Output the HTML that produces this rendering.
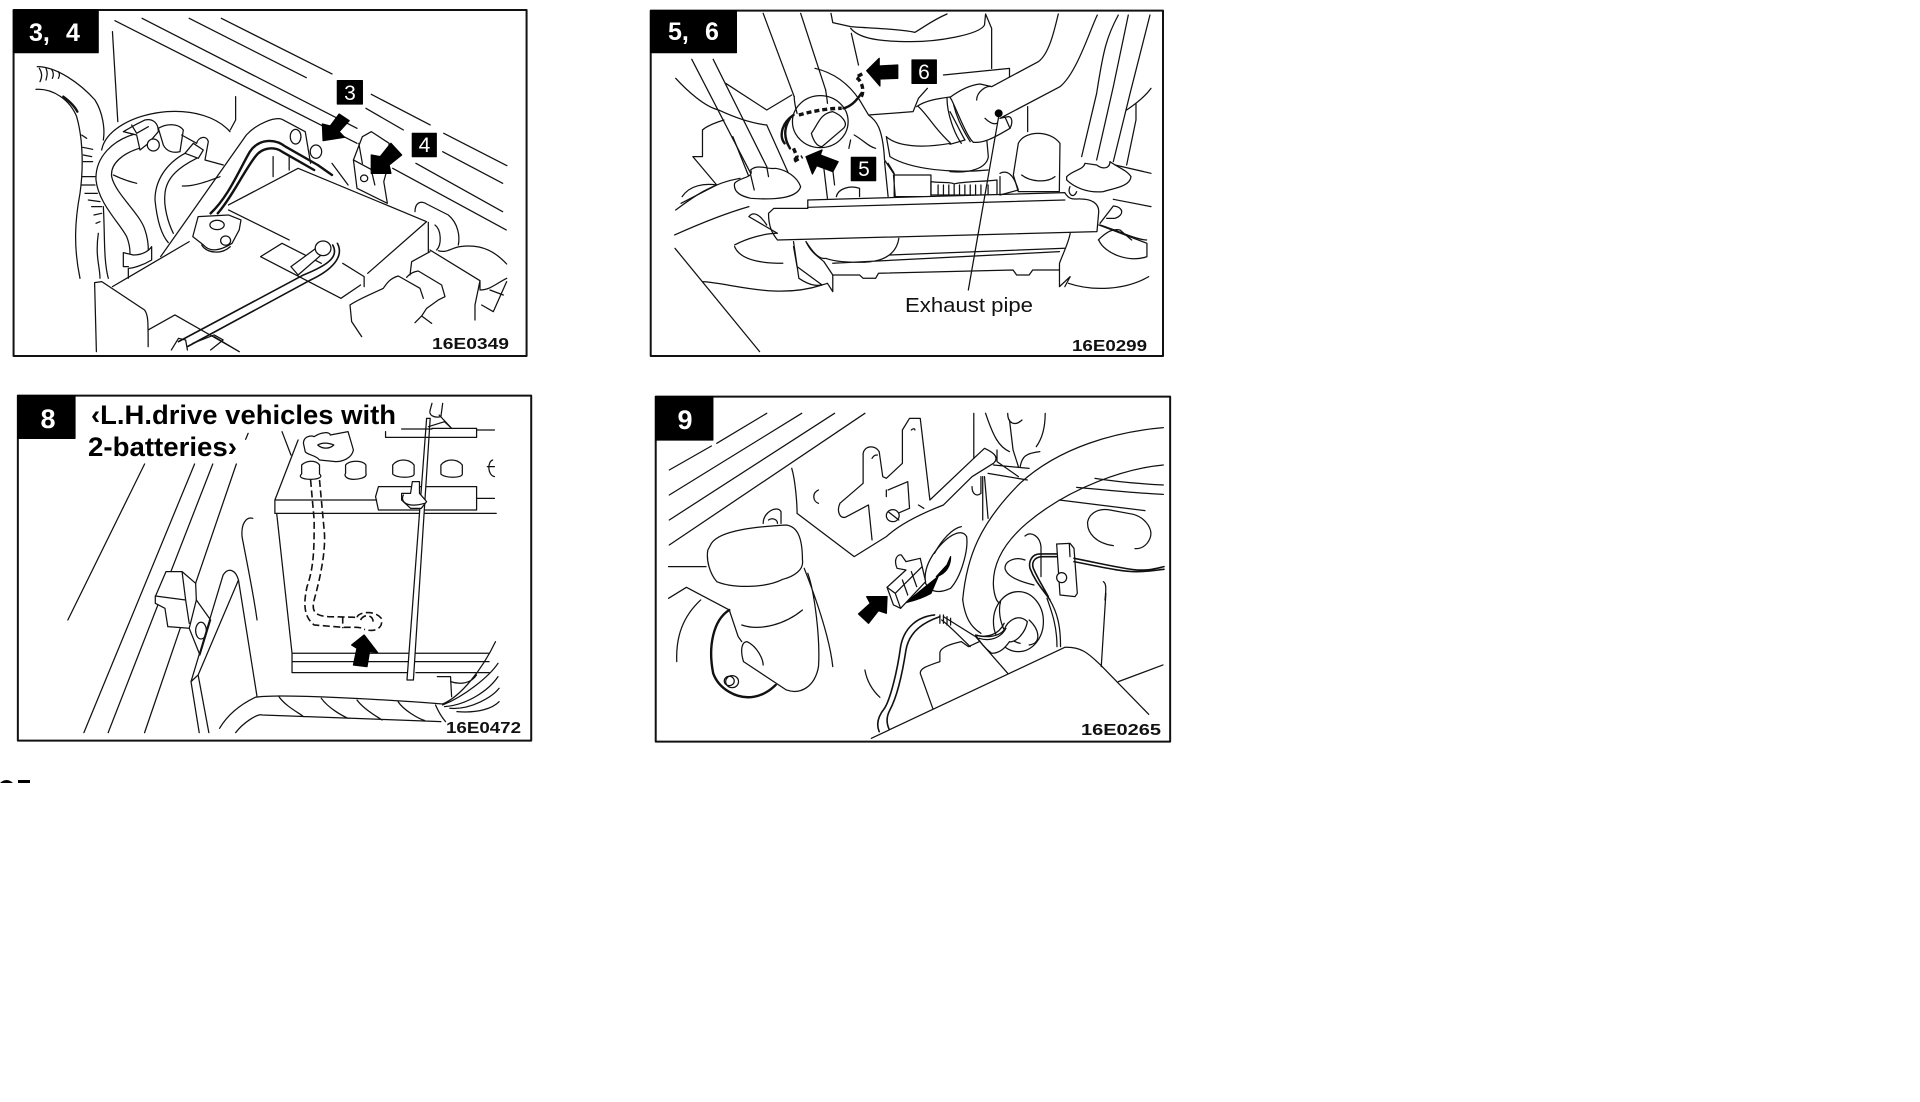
<!DOCTYPE html>
<html lang="en">
<head>
<meta charset="utf-8">
<title>Panels 3-9</title>
<style>
html,body{margin:0;padding:0;background:#fff}
svg{display:block}
.l path,.l ellipse,.l circle,.l rect,.l polygon{vector-effect:non-scaling-stroke}
.l{fill:none;stroke:#111;stroke-width:1.25;stroke-linecap:round;stroke-linejoin:round}
.w{fill:#fff}
.t{stroke-width:2.4}
.m{stroke-width:1.6}
.d{stroke-dasharray:5 3;stroke-width:3.4;stroke-linecap:butt}
.dd{stroke-dasharray:7 3.5;stroke-width:1.6;stroke-linecap:butt}
.f{fill:#000;stroke:#000}
.n0{stroke:none}
.fr{fill:none;stroke:#111;stroke-width:2}
text{font-family:"Liberation Sans",sans-serif;stroke:none}
.c{font-weight:700;font-size:16px;fill:#111}
.n{font-weight:700;fill:#fff}
</style>
</head>
<body>
<svg width="1920" height="1102" viewBox="0 0 1920 1102" xmlns="http://www.w3.org/2000/svg">
<rect width="1920" height="1102" fill="#fff"/>

<!-- Panel 3,4 -->
<g class="l" transform="scale(.357 .3333)">
<path d="M322 62L1000 430M398 55L1000 385M530 55L858 233M620 55L930 222M1025 325L1130 390M1040 283L1205 375M1243 400L1420 497M1240 455L1408 550M1165 490L1408 635M1100 505L1418 690"/>
<path d="M315 95L330 365"/>
<path d="M660 290V360L645 390"/>
<path class="w n0" d="M835 505L1195 665L1025 825L640 625Z"/>
<path d="M640 615L835 505L1195 665L1030 820M640 630L810 720M960 790L1020 830V860"/>
<path d="M450 770L690 405C720 370 770 350 790 358L855 395L870 490M810 470V510M765 470V530"/>
<ellipse cx="828" cy="410" rx="15" ry="22"/><ellipse cx="885" cy="455" rx="16" ry="20"/>
<path class="t" d="M590 640C640 590 670 510 700 455C725 415 770 415 800 440L890 495L930 525"/>
<path class="t" d="M610 640C650 590 680 520 715 470C735 440 770 440 790 455L880 510"/>
<path d="M930 490L975 555"/>
<path class="w" d="M555 650L640 645L675 660L670 690L650 730C620 750 590 760 570 735L540 710Z"/>
<ellipse cx="608" cy="675" rx="20" ry="14"/><circle cx="632" cy="722" r="14"/>
<path d="M565 735C580 760 620 765 645 740"/>
<path d="M730 770L790 730L900 790M730 770L955 895L1010 855M865 845L955 895"/>
<path class="w" d="M815 800L885 745L905 760L835 825Z"/>
<circle class="w" cx="905" cy="745" r="22"/>
<path class="m" d="M500 1025L850 825C920 795 950 770 932 735M525 1040L870 840C930 810 965 770 945 730"/>
<path d="M480 1050L500 1015L520 1020L525 1050M540 1030L600 1005L625 1020L590 1050M600 1010L670 1055"/>
<path d="M265 848L270 1055M265 848L285 845L405 930C415 945 415 960 415 1040M315 860L530 725M415 990L490 945L670 1055"/>
<path class="w" d="M1015 410L1040 395L1090 430L1085 505L1075 545L1085 610L1000 565L990 480Z"/>
<path d="M990 480L1060 520M1005 430L1015 490M1040 510L1050 555"/><circle cx="1020" cy="535" r="10"/>
<polygon class="f" points="905,422 903,372 925,378 950,342 978,362 950,395 965,412"/>
<polygon class="f" points="1040,520 1040,465 1065,470 1095,430 1125,465 1090,495 1095,520"/>
<rect class="fr" x="38" y="30" width="1437" height="1038"/>
<rect class="f" x="38" y="30" width="237" height="128"/>
<rect class="f" x="945" y="242" width="70" height="70"/>
<rect class="f" x="1155" y="400" width="67" height="70"/>
</g>

<!-- Panel 3,4 detail: left hoses -->
<g class="l" transform="translate(20 60) scale(.3333)">
<path d="M52 20C110 20 180 70 225 120C250 160 255 210 250 240M250 440C255 520 250 600 265 655"/>
<path d="M48 88C100 85 150 120 170 170C190 240 190 330 180 400C165 480 160 560 180 655"/>
<path d="M235 520C225 590 240 620 240 655"/>
<path d="M58 25C68 40 65 55 60 65M78 25C85 40 80 50 78 60M95 28C102 40 100 50 97 55M115 35C120 42 118 50 115 55"/>
<path d="M185 225L200 235M188 262L218 268M190 285L215 290M190 305L218 305M187 350H225M183 375H225M195 400L232 400M205 420L240 425M215 440H245M222 465L245 460M228 490L240 485"/>
<path class="t" d="M130 110C150 125 165 140 172 155"/>
<path d="M245 270C255 215 330 165 440 155C520 150 590 170 630 215M280 345C300 355 330 365 350 370M487 378C520 380 560 365 600 350"/>
<path d="M345 222C280 240 225 290 228 360C235 430 300 490 320 530C330 555 330 570 330 580"/>
<path d="M358 265C310 280 270 310 275 350C285 400 360 460 375 510C385 540 385 560 385 570"/>
<path d="M310 578L340 585C365 585 385 575 395 560V600C370 615 340 625 325 625V655M310 578V620H325"/>
<path class="w" d="M310 215L345 195L375 180C400 175 415 190 415 215L385 250L360 270L350 225Z"/>
<path d="M335 195L350 220L385 200"/>
<circle class="w" cx="400" cy="255" r="18"/>
<path class="w" d="M415 205C440 190 475 190 490 210L480 275C460 280 440 275 430 255Z"/>
<path d="M485 225L530 250C535 230 560 225 565 245L555 300L610 315"/>
<path class="w" d="M495 280L520 250L550 270L535 295Z"/>
<path d="M495 280C440 310 405 360 405 420C410 470 420 520 445 548M530 295C480 320 440 350 435 400C430 440 445 490 460 520"/>
</g>

<!-- Panel 3,4 detail: lower right -->
<g class="l" transform="translate(320 190) scale(.3333)">
<path d="M325 97V185M285 65C285 40 300 30 320 42L385 75C415 100 420 140 415 165M345 105C365 120 365 165 350 180"/>
<path d="M330 180L480 272L465 345V390M355 182C380 190 390 175 420 170C490 160 530 190 560 222M480 272V300C510 300 530 280 560 265M510 300L550 315M485 345L520 365L560 275"/>
<path d="M330 185L275 215L270 255M90 345C120 325 160 310 190 295C200 280 210 265 235 258L300 295L310 325M260 262C270 250 280 245 295 243L365 285L375 320L355 330L320 355L305 378L285 398M305 378L335 400M90 345L95 395L125 440"/>
</g>

<!-- Panel 5,6 -->
<g class="l" transform="translate(640 0) scale(.357 .3333)">
<path d="M535 40L540 68L590 80C640 85 720 85 770 97C790 85 820 60 860 42M590 85C610 110 650 125 760 125C830 125 950 105 965 75L968 42L985 85V205M592 100L612 195"/>
<path d="M345 40L432 290M450 40L520 270M145 178L310 520M205 178L355 500M100 235C130 270 180 320 220 330C260 350 310 370 355 375M240 250L355 330L425 285"/>
<path d="M490 205C550 220 590 260 615 300L640 345L765 335L780 295L805 265M850 225L1035 205V235M640 345C660 360 680 380 685 480L710 520"/>
<path d="M175 390C190 375 220 365 235 360M175 390V470H148L215 555M355 375L420 530M260 410L305 530"/>
<circle class="w" cx="505" cy="365" r="78"/>
<path d="M432 290C432 310 436 325 440 340M520 270C522 285 524 295 525 310"/>
<path class="w" d="M480 400C500 370 505 340 540 335C565 345 585 370 570 385L510 440C495 440 485 420 480 400Z"/>
<path class="t" d="M570 325C590 320 605 305 620 280"/>
<path class="d" d="M445 345C480 335 520 325 565 325M620 290C630 270 620 240 605 232L625 220"/>
<path class="t" d="M430 345C395 370 390 410 405 430M420 355C405 380 400 410 420 445"/>
<path class="d" d="M430 445L440 470L430 485L455 470"/>
<path d="M515 505L525 595M540 510L545 555M590 420L585 445M600 405C625 420 640 440 660 445"/>
<path d="M775 320C800 300 840 295 875 290M860 295C860 340 880 400 900 430M875 295C880 330 895 375 925 425M780 320C810 350 820 380 870 430M690 410C720 440 790 445 870 430M690 410L700 470C760 510 880 520 975 510"/>
<path d="M710 525H815V590H715ZM695 490L712 520V590"/>
<path d="M815 545C850 550 870 545 880 552C900 545 960 545 1000 540V585H815ZM835 555V585M850 555V585M865 555V585M880 555V585M895 555V585M910 555V585M925 555V585M940 555V585M955 555V585M975 555V585M685 485L695 590M550 590C555 565 590 555 615 565V590"/>
<path class="w" d="M265 550C280 530 320 535 310 510C330 490 360 510 380 505C410 510 440 530 450 560C440 595 380 600 310 595C290 590 260 580 265 550Z"/>
<path d="M310 525L320 570M355 500L360 530"/>
<path class="w" d="M470 600L1190 578C1205 605 1220 595 1235 597C1265 597 1285 610 1285 635L1280 695L385 720C370 700 360 680 360 640L375 625L470 625Z"/>
<path d="M470 622L1190 600"/>
<path d="M100 630C150 590 200 550 280 535M97 705C170 670 240 640 305 620M265 735C300 715 350 700 385 700L305 650C320 630 340 650 355 675M265 740C280 780 340 790 400 790M98 745L335 1055M175 845C260 850 380 900 510 855L440 800L430 740"/>
<path d="M430 725L445 835C480 860 500 860 525 850L540 875V825L515 785C500 770 480 760 465 725"/>
<path d="M465 725C480 750 500 780 520 775C560 790 640 790 670 780C700 770 720 750 725 715M540 790L1175 755M700 765L1190 745M540 825H615L625 835H660L668 820L1045 810L1055 825H1090L1100 810H1175"/>
<path d="M1205 700C1200 730 1185 760 1175 790V860M1175 860L1205 830L1190 860M1200 850C1270 875 1360 870 1425 830M1285 675L1420 730V770C1370 790 1300 760 1285 720"/>
<path d="M118 590C140 555 180 550 215 555L115 610"/>
<polygon class="f" points="635,212 670,175 670,198 722,195 722,235 672,237 672,258"/>
<polygon class="f" points="465,470 510,450 505,465 555,485 540,515 495,497 483,522"/>
<rect class="fr" x="30" y="32" width="1435" height="1036"/>
<rect class="f" x="30" y="32" width="240" height="126"/>
<rect class="f" x="592" y="472" width="68" height="70"/>
<rect class="f" x="762" y="180" width="68" height="70"/>
</g>

<!-- Panel 5,6 detail: right side -->
<g class="l" transform="translate(950 10) scale(.3333)">
<path d="M233 290V365M110 385L115 440C110 475 60 490 0 485"/>
<path class="w" d="M0 262C30 240 60 225 90 222L125 230L180 355C130 385 100 400 70 397C50 380 20 300 5 270Z"/>
<path d="M0 305C25 350 35 375 45 390L0 403M175 320C185 320 190 335 180 355"/>
<path class="w n0" d="M80 270C80 245 110 225 125 230L265 155C300 130 315 50 325 12L442 15C420 60 380 190 330 230L150 325C130 345 115 335 105 325Z"/>
<path d="M80 270C80 245 110 225 125 230L265 155C300 130 315 50 325 12M150 325L330 230C380 190 420 60 442 15M105 325C115 335 130 345 140 340M150 325L175 320"/>
<path d="M505 15C470 80 460 120 440 250L395 440M535 15L490 230L440 450M600 15C570 130 520 330 490 455M530 300C560 280 585 260 603 235M558 280V330L530 465"/>
<path class="w" d="M190 495L205 400C225 360 300 360 330 400L328 545H205Z"/>
<path d="M215 495C240 515 290 520 315 500M150 490C170 480 190 490 205 540L150 555V500"/>
<path class="w" d="M350 500C370 480 400 480 405 460L440 465C460 480 480 475 480 455C500 470 530 480 543 500C540 530 490 535 460 545C410 550 370 530 350 510Z"/>
<path d="M495 465L603 490M490 568L603 590M360 530C350 550 370 570 380 545M450 640L490 588C520 590 525 615 495 625H470M450 645C500 660 560 690 590 690M445 690C470 665 490 655 510 660L545 690"/>
<path d="M146 320L55 840"/>
<circle class="f" cx="146" cy="310" r="10"/>
</g>

<!-- Panel 8 -->
<g class="l" transform="translate(0 380) scale(.357 .3333)">
<path d="M405 252L190 720M545 252L235 1058M596 252L303 1058M662 252L405 1058M695 160L688 178M790 155L815 225"/>
<path class="w" d="M465 575L510 575L548 610L550 660L590 720L560 825L530 745L470 740L462 685L435 670V650Z"/>
<path d="M435 648L520 660L530 730M510 575L520 660M530 745L550 660"/>
<ellipse cx="563" cy="752" rx="15" ry="25"/>
<path d="M535 905L625 585C640 560 660 570 668 600L555 885ZM535 905L558 1058M555 885L585 1058M668 600L720 950"/>
<path d="M708 415C690 410 675 430 678 470C690 540 710 640 720 720"/>
<path d="M835 180L770 360V400H1390M770 360H1055M1060 320H1335V390H1060L1052 350ZM1335 355H1385M775 400L818 820H1370M818 820V878H1145M1165 878H1370M818 845H1370"/>
<path d="M850 190C850 170 870 165 880 170C900 155 925 155 925 165L975 155L990 210C985 235 960 245 940 245L895 240C885 225 860 225 855 215ZM890 195C905 185 925 190 935 195C920 210 900 205 890 195Z"/>
<path class="w" d="M845 255C860 240 885 240 895 255V282C905 290 895 298 870 298C845 298 835 290 845 282Z"/>
<path class="w" d="M968 255C980 240 1015 240 1025 255V280C1030 295 1000 298 990 298C975 298 962 290 968 280Z"/>
<path class="w" d="M1100 255C1115 235 1145 235 1160 255V282C1160 295 1110 295 1100 282Z"/>
<path class="w" d="M1235 255C1250 235 1280 235 1295 255V282C1295 295 1245 295 1235 282Z"/>
<path d="M1380 240C1365 245 1365 285 1385 290M1365 260H1385"/>
<path class="dd" d="M870 300L880 420C880 500 880 560 860 620C850 670 850 710 880 735L960 742H1000L1020 745M895 300L908 450C915 520 890 620 880 660C870 700 890 708 920 710L1000 712"/>
<path class="dd" d="M960 710V745M1000 712C1005 695 1050 690 1068 715C1075 745 1050 758 1020 748M1010 720C1020 700 1045 705 1045 725"/>
<path class="w" d="M1195 115L1140 900H1158L1205 115Z"/>
<path d="M1210 70L1205 90C1200 105 1215 115 1235 110L1240 70M1230 105L1265 145L1245 125L1200 140M1080 155V172H1335V145H1210M1125 147H1210M1335 150H1385"/>
<path class="w" d="M1155 305H1175V340L1195 365L1180 385H1150L1125 360V340L1150 340Z"/>
<path d="M1130 345C1120 365 1140 385 1190 370"/>
<path d="M615 1045C640 1000 680 970 715 952C780 940 1100 960 1240 972M660 1058C680 1030 720 1000 735 1005L1235 1025M780 948C800 980 840 1000 850 1010M900 955C920 985 960 1008 975 1015M1000 960C1020 990 1060 1012 1070 1020M1115 965C1130 990 1170 1015 1190 1022M1220 975C1230 1000 1240 1015 1248 1025"/>
<path d="M1240 972C1290 950 1350 870 1388 785M1240 975C1300 950 1370 890 1395 850M1245 980C1310 975 1370 930 1395 890M1260 985C1320 990 1380 950 1398 925M1280 995C1340 1000 1380 985 1398 965M1225 890H1262L1265 950M1262 905C1290 915 1320 910 1335 885"/>
<polygon class="f" points="985,795 1020,765 1058,818 1035,815 1028,860 990,855 1000,805"/>
<rect class="fr" x="50" y="47" width="1438" height="1035"/>
<rect class="f" x="50" y="47" width="160" height="128"/>
</g>

<!-- Panel 9 -->
<g class="l" transform="translate(640 380) scale(.357 .3333)">
<path d="M82 270L200 198M215 190L355 100M82 345L453 100M82 420L545 100M82 495L630 100"/>
<path d="M425 265C435 300 440 370 440 400L600 530L690 470C730 430 790 400 850 375L930 290L990 250C1010 230 985 215 965 205L935 235L812 360L785 115L755 115L735 150L735 250L690 295L680 290L670 215C660 195 630 195 625 220V310L560 370C550 395 560 415 575 412L640 375L650 480M695 330L750 305L755 385L700 410M780 375L795 385M690 330V350"/>
<path d="M500 330C480 340 485 365 500 370M650 235C655 225 660 225 665 225M760 150C765 145 770 145 770 150"/>
<circle class="w" cx="708" cy="407" r="18"/><path d="M695 395L725 420"/>
<path d="M935 235V100M968 100C990 170 1005 200 1035 215M1030 100C1030 130 1050 140 1070 120M1135 100C1135 130 1130 170 1110 200M1035 120L1045 210L1060 260M1065 260C1070 230 1080 220 1120 215M1000 210L1000 245L1060 290M990 255L1090 265M975 280L1085 300M965 290L975 415M960 290V420"/>
<path d="M930 320C930 345 945 350 955 340V290"/>
<path d="M904 660C910 710 925 740 955 760M999 660C1005 672 1018 682 1030 690"/>
<path d="M1148 660C1170 700 1178 740 1178 800M1140 655C1155 700 1168 740 1168 800"/>
<ellipse class="w" cx="1060" cy="725" rx="70" ry="90"/>
<path d="M1010 665C1000 700 1015 780 1065 790M1090 720C1120 750 1125 790 1090 795"/>
<path class="w" d="M1020 750C1030 720 1060 700 1085 725C1080 760 1050 790 1035 785C1025 800 1010 820 985 820C960 800 950 780 940 765C970 775 1005 770 1020 750Z"/>
<path d="M940 765C970 775 1005 765 1020 730M950 775C980 785 1010 775 1025 745"/>
<path d="M850 710C880 730 910 750 940 770L1030 880M845 720C870 740 900 775 925 800"/>
<path class="m" d="M825 705C780 710 740 740 730 800C720 880 700 960 685 985C670 1005 660 1030 670 1055M840 710C800 725 755 750 745 810C735 880 720 950 700 990C690 1010 690 1030 698 1048"/>
<path d="M840 705V730M850 705V730M860 710V735M870 715V735"/>
<path class="w n0" d="M648 1075L1190 800C1240 800 1260 825 1290 855L1425 1003L1430 1080H650Z"/>
<path d="M648 1075L1190 802C1240 800 1260 825 1290 855L1425 1003M820 985L785 880C785 865 800 860 840 845V820C840 800 880 790 900 785L920 800L950 785M1340 905L1465 855M1305 640L1292 860"/>
<path d="M630 870C635 900 650 930 672 952"/>
<path class="w" d="M820 525C855 470 900 440 915 470C920 510 900 590 870 625C840 640 815 640 800 610C795 580 805 550 820 525Z"/>
<path d="M825 520C845 480 875 445 900 440"/>
<path class="f" d="M870 530C870 555 860 580 830 590L860 555Z"/>
<path class="f" d="M800 620L835 590L815 640C790 655 770 660 745 668Z"/>
<path class="w" d="M692 622L745 570L720 565C710 540 720 522 732 525L745 545L785 535L800 605L730 685L710 675Z"/>
<path d="M692 622L715 640L730 685M715 640L790 560M735 600L750 645M760 575L775 620"/>
<polygon class="f" points="692,650 690,700 668,692 640,730 612,702 645,670 635,650"/>
<path d="M200 490C225 450 330 440 410 435C440 440 455 470 455 540C460 570 430 590 400 598C350 625 260 625 215 605C195 580 185 540 190 510ZM345 430C345 395 385 375 395 395V430M360 420C370 412 385 418 385 430"/>
<path d="M80 560H185M460 565C480 620 530 760 540 860M470 580C490 640 505 780 500 860C490 920 450 945 410 930L290 845C280 810 285 785 300 785C330 800 345 840 345 855M455 690C410 730 340 755 285 735M250 690L275 770L285 785M80 655L130 622L250 690"/>
<path class="t" d="M250 690C205 720 190 800 205 880C220 925 270 960 320 950C350 945 370 925 380 915"/>
<path d="M170 660C120 710 100 770 103 845"/>
<circle cx="250" cy="903" r="14"/><circle cx="258" cy="905" r="18"/>
<rect class="fr" x="44" y="50" width="1441" height="1035"/>
<rect class="f" x="44" y="50" width="160" height="130"/>
</g>

<!-- Panel 9 detail: wheel arch and bracket -->
<g class="l" transform="translate(960 400) scale(.3333)">
<path d="M610 83C470 95 300 140 180 250C60 370 20 470 8 600"/>
<path d="M610 195C500 205 330 260 200 370C130 430 100 490 100 550C100 570 105 590 110 600"/>
<path d="M405 235C470 245 550 252 610 255M350 262C440 270 530 280 610 283M298 300L555 332"/>
<path d="M460 437C410 430 380 400 383 365C390 335 420 325 450 330L520 343C560 355 580 390 570 415C560 440 540 447 525 446"/>
<path d="M195 408C215 392 240 410 243 440V530M195 480C170 470 135 480 135 505C140 530 180 545 222 555"/>
<path class="m" d="M290 462H240C215 462 205 485 210 505C225 545 250 570 270 600M290 470H245C220 472 215 490 220 505C235 540 255 570 265 590"/>
<path class="w" d="M290 432L330 430L342 445L352 580L345 590L300 585Z"/>
<path d="M328 432L330 470"/>
<circle class="w" cx="305" cy="533" r="15"/>
<path class="m" d="M342 475C420 490 480 505 530 510C570 512 590 505 612 500M342 485C420 500 480 515 530 515C570 515 590 510 612 508"/>
<path d="M430 545C440 550 438 570 435 600"/>
</g>

<!-- bottom fragment -->
<path d="M0 783C4 779 9 779 13 783ZM18 780H30V783H18Z" fill="#000"/>

<!-- Text -->
<text class="n" x="29" y="41" font-size="25">3,</text>
<text class="n" x="66" y="41" font-size="25">4</text>
<text class="n" x="350" y="100" font-size="21" text-anchor="middle" style="font-weight:400">3</text>
<text class="n" x="424.5" y="152" font-size="21" text-anchor="middle" style="font-weight:400">4</text>
<text class="c" x="432" y="349" textLength="77" lengthAdjust="spacingAndGlyphs">16E0349</text>

<text class="n" x="668" y="40" font-size="25">5,</text>
<text class="n" x="705" y="40" font-size="25">6</text>
<text class="n" x="864" y="176" font-size="21" text-anchor="middle" style="font-weight:400">5</text>
<text class="n" x="924" y="79" font-size="21" text-anchor="middle" style="font-weight:400">6</text>
<text x="905" y="312" font-size="20" fill="#111" textLength="128" lengthAdjust="spacingAndGlyphs">Exhaust pipe</text>
<text class="c" x="1072" y="351" textLength="75" lengthAdjust="spacingAndGlyphs">16E0299</text>

<text class="n" x="48" y="428" font-size="27" text-anchor="middle">8</text>
<text x="91" y="424" font-size="27" font-weight="700" fill="#000" textLength="305" lengthAdjust="spacingAndGlyphs">‹L.H.drive vehicles with</text>
<text x="88" y="456" font-size="27" font-weight="700" fill="#000" textLength="149" lengthAdjust="spacingAndGlyphs">2-batteries›</text>
<text class="c" x="446" y="733" textLength="75" lengthAdjust="spacingAndGlyphs">16E0472</text>

<text class="n" x="685" y="429" font-size="27" text-anchor="middle">9</text>
<text class="c" x="1081" y="735" textLength="80" lengthAdjust="spacingAndGlyphs">16E0265</text>
</svg>
</body>
</html>
